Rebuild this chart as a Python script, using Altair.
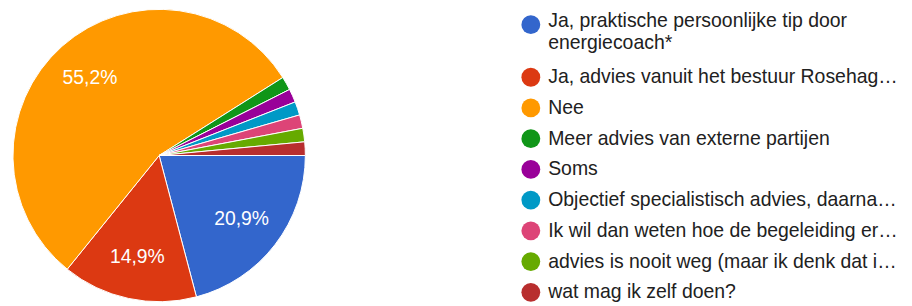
import math
import altair as alt
import pandas as pd

# ---- data ----
categories = [
    "Ja, praktische persoonlijke tip door energiecoach*",
    "Ja, advies vanuit het bestuur Rosehag…",
    "Nee",
    "Meer advies van externe partijen",
    "Soms",
    "Objectief specialistisch advies, daarna…",
    "Ik wil dan weten hoe de begeleiding er…",
    "advies is nooit weg (maar ik denk dat i…",
    "wat mag ik zelf doen?",
]
legend_lines = [
    ["Ja, praktische persoonlijke tip door", "energiecoach*"],
    ["Ja, advies vanuit het bestuur Rosehag…"],
    ["Nee"],
    ["Meer advies van externe partijen"],
    ["Soms"],
    ["Objectief specialistisch advies, daarna…"],
    ["Ik wil dan weten hoe de begeleiding er…"],
    ["advies is nooit weg (maar ik denk dat i…"],
    ["wat mag ik zelf doen?"],
]
counts = [14, 10, 37, 1, 1, 1, 1, 1, 1]
colors = ["#3366cc", "#dc3912", "#ff9900", "#109618", "#990099",
          "#0099c6", "#dd4477", "#66aa00", "#b82e2e"]

total = sum(counts)
pie_df = pd.DataFrame({
    "cat": categories,
    "count": counts,
    "order": list(range(len(categories))),
    "label": [f"{c / total * 100:.1f}%".replace(".", ",") for c in counts],
    "pct": [c / total * 100 for c in counts],
})

LINE = 0.71  # extra line height, in legend-row units
sym_rows, txt_rows = [], []
slot = 0.0
for cat, lines in zip(categories, legend_lines):
    sym_rows.append({"cat": cat, "slot": slot})
    n = len(lines)
    for j, t in enumerate(lines):
        txt_rows.append({"cat": cat, "text": t,
                         "slot": slot + j * LINE - 0.11 * (n - 1)})
    slot += 1 + LINE * (n - 1)
sym_df = pd.DataFrame(sym_rows)
txt_df = pd.DataFrame(txt_rows)

FONT = "Liberation Sans"
color_scale = alt.Scale(domain=categories, range=colors)
theta_scale = alt.Scale(range=[math.pi / 2, math.pi / 2 + 2 * math.pi])
cx, cy, R = 152.5, 147.5, 147.5

base = alt.Chart(pie_df)
arcs = base.mark_arc(radius=R, stroke="white", strokeWidth=1).encode(
    theta=alt.Theta("count:Q", stack=True, scale=theta_scale),
    color=alt.Color("cat:N", scale=color_scale, legend=None),
    order=alt.Order("order:Q"),
    x=alt.value(cx),
    y=alt.value(cy),
)
labels = base.mark_text(radius=105, fontSize=19.5, font=FONT, color="white",
                        align="center", baseline="middle").encode(
    theta=alt.Theta("count:Q", stack=True, scale=theta_scale),
    order=alt.Order("order:Q"),
    text=alt.Text("label:N"),
    opacity=alt.condition("datum.pct > 5", alt.value(1), alt.value(0)),
    x=alt.value(cx),
    y=alt.value(cy),
)

y_scale = alt.Scale(domain=[0, 1], range=[15.5, 46.5])
leg_sym = alt.Chart(sym_df).mark_point(filled=True, shape="circle", size=361,
                                        opacity=1).encode(
    x=alt.value(527.5),
    y=alt.Y("slot:Q", scale=y_scale, axis=None),
    color=alt.Color("cat:N", scale=color_scale, legend=None),
)
leg_txt = alt.Chart(txt_df).mark_text(align="left", baseline="middle",
                                      fontSize=19.6, font=FONT,
                                      color="#212121").encode(
    x=alt.value(545),
    y=alt.Y("slot:Q", scale=y_scale, axis=None),
    text="text:N",
)

chart = alt.layer(arcs, labels, leg_sym, leg_txt).properties(
    width=904, height=298, padding=0,
    autosize=alt.AutoSizeParams(type="none"),
).configure_view(stroke=None)

chart.save("out.html", embed_options={"renderer": "svg", "actions": False})
